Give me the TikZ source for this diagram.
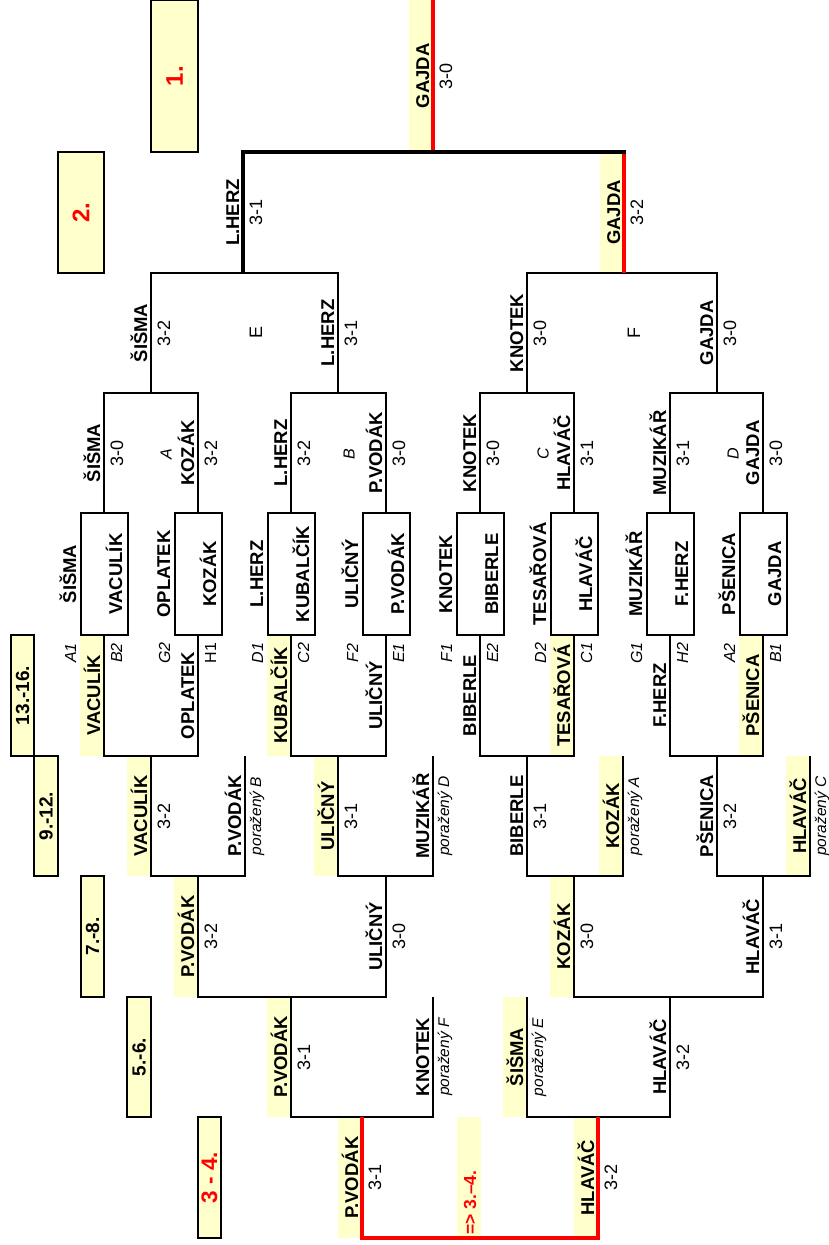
\documentclass[tikz,border=0pt]{standalone}
\usepackage{fontspec}
\setmainfont{Liberation Sans}
\definecolor{hly}{RGB}{255,255,204}
\definecolor{rd}{RGB}{255,0,0}
\begin{document}
\begin{tikzpicture}[x=1pt,y=-1pt,
  ln/.style={line width=2pt},
  thk/.style={line width=3.3pt},
  rl/.style={line width=3.3pt, draw=rd},
  plc/.style={draw=black, line width=2pt, fill=hly},
  bx/.style={draw=black, line width=2pt},
  nm/.style={rotate=90, anchor=base, inner sep=0pt, font=\fontsize{18.5}{20}\selectfont\bfseries},
  sc/.style={rotate=90, anchor=base, inner sep=0pt, font=\fontsize{18}{20}\selectfont},
  sd/.style={rotate=90, anchor=base, inner sep=0pt, font=\fontsize{16}{18}\selectfont\itshape},
  pz/.style={rotate=90, anchor=base, inner sep=0pt, font=\fontsize{15.5}{18}\selectfont\itshape},
  lt/.style={rotate=90, inner sep=0pt, font=\fontsize{16}{18}\selectfont\itshape},
  ef/.style={rotate=90, inner sep=0pt, font=\fontsize{18}{20}\selectfont},
  pt/.style={rotate=90, inner sep=0pt, font=\fontsize{19}{21}\selectfont\bfseries},
  ptr/.style={rotate=90, inner sep=0pt, font=\fontsize{24}{26}\selectfont\bfseries, text=rd},
]
\useasboundingbox (0,0) rectangle (829,1245);

% yellow highlights
\foreach \x/\ya/\yb in {433/0/150.5, 624/153.6/273,
  104/635/756, 291/635/756, 574/635/756, 763/635/756,
  151/756/876, 338/756/876, 623/756/876, 810/756/876,
  198/876/997, 574/876/997, 291/997/1117, 527/997/1117,
  362/1117/1238, 598/1117/1238, 481/1117/1238}
  \fill[hly] (\x-24,\ya) rectangle (\x,\yb);

% placement boxes
\draw[plc] (151,0) rectangle (198,152);
\draw[plc] (58,152) rectangle (104,273);
\draw[plc] (11,635) rectangle (34,756);
\draw[plc] (34,756) rectangle (58,876);
\draw[plc] (81,876) rectangle (104,997);
\draw[plc] (127,997) rectangle (151,1117);
\draw[plc] (198,1117) rectangle (221,1238);
\node[ptr] (p1) at (174.5,76) {1.};
\node[ptr] (p2) at (81,212.5) {2.};
\node[pt] (p13) at (22.5,695.5) {13.-16.};
\node[pt] (p9) at (46,816) {9.-12.};
\node[pt] (p7) at (92.5,936.5) {7.-8.};
\node[pt] (p5) at (139,1057) {5.-6.};
\node[ptr, font=\fontsize{22.5}{24}\selectfont\bfseries] (p3) at (209.5,1177.5) {3 - 4.};

% winner bracket
\draw[ln] (104,513)--(104,393)--(198,393)--(198,513);
\draw[ln] (291,513)--(291,393)--(386,393)--(386,513);
\draw[ln] (480,513)--(480,393)--(574,393)--(574,513);
\draw[ln] (670,513)--(670,393)--(763,393)--(763,513);
\draw[ln] (151,393)--(151,273)--(338,273)--(338,393);
\draw[ln] (527,393)--(527,273)--(717,273)--(717,393);
\draw[rl] (624,153.6)--(624,273);
\draw[rl] (433,0)--(433,150.4);
\draw[thk] (243,273)--(243,152)--(625.6,152);

% first round boxes
\foreach \x in {104,198,291,386,480,574,670,763}
  \draw[bx] (\x-23.5,513) rectangle (\x+23.5,635);

% loser bracket
\draw[ln] (104,635)--(104,756)--(198,756)--(198,635);
\draw[ln] (291,635)--(291,756)--(386,756)--(386,635);
\draw[ln] (480,635)--(480,756)--(574,756)--(574,635);
\draw[ln] (670,635)--(670,756)--(763,756)--(763,635);
\draw[ln] (151,756)--(151,876)--(245,876)--(245,756);
\draw[ln] (338,756)--(338,876)--(433,876)--(433,756);
\draw[ln] (527,756)--(527,876)--(623,876)--(623,756);
\draw[ln] (717,756)--(717,876)--(810,876)--(810,756);
\draw[ln] (198,876)--(198,997)--(386,997)--(386,876);
\draw[ln] (574,876)--(574,997)--(763,997)--(763,876);
\draw[ln] (291,997)--(291,1117)--(433,1117)--(433,997);
\draw[ln] (527,997)--(527,1117)--(670,1117)--(670,997);
\draw[rl] (362,1117)--(362,1238)--(598,1238)--(598,1117);

% names with scores
\foreach \id/\x/\y/\n/\s in {
  w1/433/76/GAJDA/3-0, w2/243/212.5/L.HERZ/3-1, w3/624/212.5/GAJDA/3-2,
  w4/151/333/ŠIŠMA/3-2, w5/338/333/L.HERZ/3-1, w6/527/333/KNOTEK/3-0, w7/717/333/GAJDA/3-0,
  q1/104/453/ŠIŠMA/3-0, q2/198/453/KOZÁK/3-2, q3/291/453/L.HERZ/3-2, q4/386/453/P.VODÁK/3-0,
  q5/480/453/KNOTEK/3-0, q6/574/453/HLAVÁČ/3-1, q7/670/453/MUZIKÁŘ/3-1, q8/763/453/GAJDA/3-0,
  la/151/816/VACULÍK/3-2, lb/338/816/ULIČNÝ/3-1, lc/527/816/BIBERLE/3-1, ld/717/816/PŠENICA/3-2,
  ma/198/936.5/P.VODÁK/3-2, mb/386/936.5/ULIČNÝ/3-0, mc/574/936.5/KOZÁK/3-0, md/763/936.5/HLAVÁČ/3-1,
  na/291/1057/P.VODÁK/3-1, nb/670/1057/HLAVÁČ/3-2,
  oa/362/1177.5/P.VODÁK/3-1, ob/598/1177.5/HLAVÁČ/3-2}
{
  \node[nm] (n\id) at (\x-4,\y) {\n};
  \node[sc] (s\id) at (\x+19,\y) {\s};
}

% first loser round names
\foreach \id/\x/\n in {a/104/VACULÍK, b/198/OPLATEK, c/291/KUBALČÍK, d/386/ULIČNÝ,
  e/480/BIBERLE, f/574/TESAŘOVÁ, g/670/F.HERZ, h/763/PŠENICA}
  \node[nm] (k\id) at (\x-4,695.5) {\n};

% players dropping from the main draw
\foreach \id/\x/\y/\n/\l in {a/245/816/P.VODÁK/B, b/433/816/MUZIKÁŘ/D, c/623/816/KOZÁK/A,
  d/810/816/HLAVÁČ/C, e/433/1057/KNOTEK/F, f/527/1057/ŠIŠMA/E}
{
  \node[nm] (d\id) at (\x-4,\y) {\n};
  \node[pz] (z\id) at (\x+16,\y) {poražený \l};
}

% first round: outside name, boxed name, seeds
\foreach \id/\x/\o/\i/\sl/\sr in {a/104/ŠIŠMA/VACULÍK/A1/B2, b/198/OPLATEK/KOZÁK/G2/{\upshape H1},
  c/291/L.HERZ/KUBALČÍK/D1/C2, d/386/ULIČNÝ/P.VODÁK/F2/E1, e/480/KNOTEK/BIBERLE/F1/E2,
  f/574/TESAŘOVÁ/HLAVÁČ/D2/C1, g/670/MUZIKÁŘ/F.HERZ/G1/H2, h/763/PŠENICA/GAJDA/A2/B1}
{
  \node[nm] (o\id) at (\x-28,574) {\o};
  \node[nm] (i\id) at (\x+18,574) {\i};
  \node[sd] (sl\id) at (\x-28,653) {\sl};
  \node[sd] (sr\id) at (\x+18,653) {\sr};
}

% group letters
\node[lt] (gA) at (166,454) {A};
\node[lt] (gB) at (349,454) {B};
\node[lt] (gC) at (543,454) {C};
\node[lt] (gD) at (733,454) {D};
\node[ef] (gE) at (256,332) {E};
\node[ef] (gF) at (634,333) {F};

% third place note
\node[rotate=90, anchor=base west, inner sep=0pt, text=rd,
  font=\fontsize{17.5}{19}\selectfont\bfseries] (tp) at (476,1235) {=> 3.–4.};
\end{tikzpicture}
\end{document}
